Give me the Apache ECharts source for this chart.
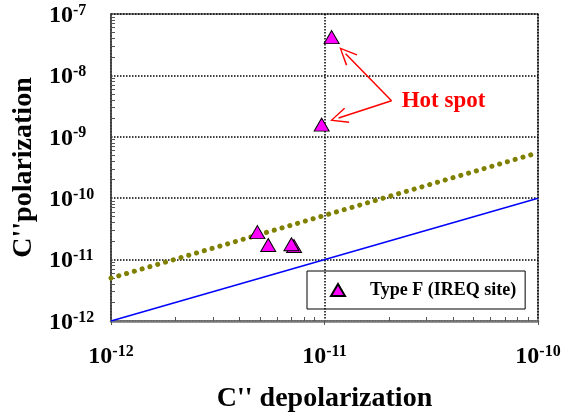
<!DOCTYPE html>
<html>
<head>
<meta charset="UTF-8">
<title>C'' polarization vs depolarization</title>
<script src="https://cdn.jsdelivr.net/npm/echarts@6/dist/echarts.min.js"></script>
</head>
<body style="margin:0">
<div id="chart1" style="width:564px;height:416px;"></div>
<script type="text/javascript">
var depol = [1.08e-11, 9.7e-12, 4.85e-12, 5.45e-12, 7.2e-12, 7.0e-12];
var pol = [4.2e-8, 1.58e-9, 2.8e-11, 1.73e-11, 1.66e-11, 1.78e-11];
// reference lines
var equalLine = [[1e-12, 1e-12], [1e-10, 1e-10]];
var fitLine = [[1e-12, 5e-12], [1e-10, 5.5e-10]];
// hot spot annotation: label anchor and arrow targets
var hotSpotFrom = [2.06e-11, 3.87e-9];
var hotSpotTo = [[1.256e-11, 2.25e-8], [1.164e-11, 2.03e-9]];
var hotSpotText = [2.3e-11, 3.83e-9];
// minor ticks (log10 space)
var xMinor = [];
var yMinor = [];
[-12, -11].forEach(function (d) {
    for (var k = 2; k <= 9; k++) xMinor.push(d + Math.log10(k));
});
[-12, -11, -10, -9, -8].forEach(function (d) {
    for (var k = 2; k <= 9; k++) yMinor.push(d + Math.log10(k));
});

var font = "'Liberation Serif', 'Times New Roman', serif";
var chart1 = echarts.init(document.getElementById('chart1'));

function powLabel(v) {
    var e = Math.round(Math.log10(v));
    return '{a|10}{b|' + e + '}';
}
var rich = {
    a: { fontFamily: font, fontWeight: 'bold', fontSize: 24, color: '#000', lineHeight: 26 },
    b: { fontFamily: font, fontWeight: 'bold', fontSize: 16, color: '#000', lineHeight: 16, verticalAlign: 'top' }
};
var dotted = { color: '#000', width: 1.5, type: [1.5, 1.5] };

var option = {
    animation: false,
    grid: {
        left: 111, right: 26, top: 14, bottom: 95,
        outerBoundsMode: 'none',
        containLabel: false,
        show: true, borderColor: '#666', borderWidth: 1.5
    },
    legend: {
        data: ['Type F (IREQ site)'],
        left: 307, top: 271,
        orient: 'vertical',
        padding: [10, 9, 10, 23],
        borderColor: '#000', borderWidth: 1,
        itemWidth: 14, itemHeight: 12,
        textStyle: { fontFamily: font, fontWeight: 'bold', fontSize: 18, color: '#000', padding: [0, 0, 0, 20] }
    },
    xAxis: [{
        type: 'log', logBase: 10, min: 1e-12, max: 1e-10,
        name: "C'' depolarization", nameLocation: 'middle', nameGap: 64,
        nameTextStyle: { fontFamily: font, fontWeight: 'bold', fontSize: 28, color: '#000' },
        axisLine: { lineStyle: { color: '#777', width: 2.5 } },
        axisTick: { show: true, length: 4, lineStyle: { color: '#555' } },
        axisLabel: { margin: 23, formatter: powLabel, rich: rich },
        splitLine: { show: true, lineStyle: dotted }
    }, {
        type: 'value', min: -12, max: -10, position: 'bottom',
        axisLine: { show: false }, axisLabel: { show: false }, splitLine: { show: false },
        axisTick: { show: true, inside: true, length: 4, customValues: xMinor, lineStyle: { color: '#555' } }
    }],
    yAxis: [{
        type: 'log', logBase: 10, min: 1e-12, max: 1e-7,
        name: "C''polarization", nameLocation: 'middle', nameGap: 73,
        nameTextStyle: { fontFamily: font, fontWeight: 'bold', fontSize: 28, color: '#000' },
        axisLine: { show: true, lineStyle: { color: '#444', width: 1.5 } },
        axisTick: { show: false },
        axisLabel: { margin: 62, align: 'left', padding: [3, 0, 0, 0], formatter: powLabel, rich: rich },
        splitLine: { show: true, lineStyle: dotted }
    }, {
        type: 'value', min: -12, max: -7, position: 'left',
        axisLine: { show: false }, axisLabel: { show: false }, splitLine: { show: false },
        axisTick: { show: true, inside: true, length: 4, customValues: yMinor, lineStyle: { color: '#555' } }
    }],
    series: [{
        name: 'equal',
        type: 'line',
        data: equalLine,
        showSymbol: false,
        lineStyle: { color: '#0000ff', width: 1.5 },
        z: 2
    }, {
        name: 'fit',
        type: 'line',
        data: fitLine,
        showSymbol: false,
        lineStyle: { color: '#808000', width: 5, type: [0.1, 8], cap: 'round' },
        z: 2
    }, {
        name: 'Type F (IREQ site)',
        type: 'scatter',
        data: depol.map(function (x, i) { return [x, pol[i]]; }),
        symbol: 'triangle',
        symbolSize: [15, 13],
        itemStyle: { color: '#ff00ff', borderColor: '#000', borderWidth: 1, opacity: 1 },
        z: 5,
        markLine: {
            silent: true,
            symbol: ['none', 'path://M0,0 L8,18 L6.6,18.6 L0,3.2 L-6.6,18.6 L-8,18 Z'],
            symbolSize: [16, 18],
            lineStyle: { color: '#ff0000', width: 1.5, type: 'solid' },
            itemStyle: { color: '#ff0000' },
            label: { show: false },
            data: hotSpotTo.map(function (p) {
                return [{ coord: hotSpotFrom }, { coord: p }];
            })
        },
        markPoint: {
            silent: true,
            symbol: 'circle',
            symbolSize: 0,
            label: {
                show: true, position: 'right', distance: 0,
                formatter: 'Hot spot',
                fontFamily: font, fontWeight: 'bold', fontSize: 23, color: '#ff0000'
            },
            data: [{ coord: hotSpotText }]
        }
    }]
};
chart1.setOption(option);
</script>
</body>
</html>
